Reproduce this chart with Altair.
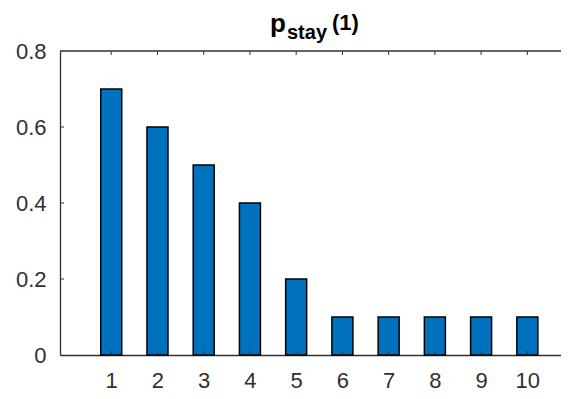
import altair as alt
import pandas as pd

# ---- data ----
categories = [1, 2, 3, 4, 5, 6, 7, 8, 9, 10]
values = [0.7, 0.6, 0.5, 0.4, 0.2, 0.1, 0.1, 0.1, 0.1, 0.1]
y_ticks = [0, 0.2, 0.4, 0.6, 0.8]
x_ticks = categories
title_main = ["p"]
title_sub = ["stay"]
title_tail = ["(1)"]

W, H = 501, 304
X_DOMAIN = [0, 10.62]
Y_DOMAIN = [0, 0.8]
AX = "#303030"
FONT = "Liberation Sans"

df = pd.DataFrame({"x": categories, "v": values})
xs = alt.Scale(domain=X_DOMAIN, nice=False, zero=False)
ys = alt.Scale(domain=Y_DOMAIN, nice=False)

bars = alt.Chart(df).mark_bar(
    size=21, color="#0072BD", stroke="black", strokeWidth=1.5
).encode(
    x=alt.X("x:Q", scale=xs,
            axis=alt.Axis(values=x_ticks, title=None, grid=False, ticks=False, tickSize=0,
                          labelFontSize=22, labelColor=AX, labelFont=FONT, labelPadding=15,
                          domainColor=AX, domainWidth=1.3, labelFlush=False)),
    y=alt.Y("v:Q", scale=ys,
            axis=alt.Axis(values=y_ticks, title=None, grid=False, ticks=False, tickSize=0,
                          labelFontSize=22, labelColor=AX, labelFont=FONT, labelPadding=14,
                          domainColor=AX, domainWidth=1.3, labelFlush=False, format="~g")),
)

# top border
top_line = alt.Chart(pd.DataFrame({"a": [0]})).mark_rule(color=AX, strokeWidth=1.3).encode(
    y=alt.value(0), x=alt.value(0), x2=alt.value(W)
)

# inward ticks
ytick_df = pd.DataFrame({"t": y_ticks[1:-1]})
left_ticks = alt.Chart(ytick_df).mark_rule(color=AX, strokeWidth=1).encode(
    y=alt.Y("t:Q", scale=ys), x=alt.value(0), x2=alt.value(4)
)
xtick_df = pd.DataFrame({"t": x_ticks})
top_ticks = alt.Chart(xtick_df).mark_rule(color=AX, strokeWidth=1).encode(
    x=alt.X("t:Q", scale=xs), y=alt.value(0), y2=alt.value(4)
)
bottom_ticks = alt.Chart(xtick_df).mark_rule(color=AX, strokeWidth=1).encode(
    x=alt.X("t:Q", scale=xs), y=alt.value(H - 4), y2=alt.value(H)
)

# title pieces (p_stay(1))
t1 = alt.Chart(pd.DataFrame({"s": title_main})).mark_text(
    font=FONT, fontSize=26, fontWeight="bold", color="black", align="left", baseline="alphabetic"
).encode(text="s:N", x=alt.value(210), y=alt.value(-19))
t2 = alt.Chart(pd.DataFrame({"s": title_sub})).mark_text(
    font=FONT, fontSize=20, fontWeight="bold", color="black", align="left", baseline="alphabetic"
).encode(text="s:N", x=alt.value(227), y=alt.value(-12))
t3 = alt.Chart(pd.DataFrame({"s": title_tail})).mark_text(
    font=FONT, fontSize=22, fontWeight="bold", color="black", align="left", baseline="alphabetic"
).encode(text="s:N", x=alt.value(272), y=alt.value(-21))

chart = alt.layer(bars, bottom_ticks, top_line, left_ticks, top_ticks, t1, t2, t3).properties(
    width=W, height=H,
    autosize=alt.AutoSizeParams(type="none"),
    padding={"left": 52, "top": 43, "right": 0, "bottom": 36},
).configure_view(stroke=None)

chart.save("out.html", embed_options={"renderer": "svg", "actions": False})
